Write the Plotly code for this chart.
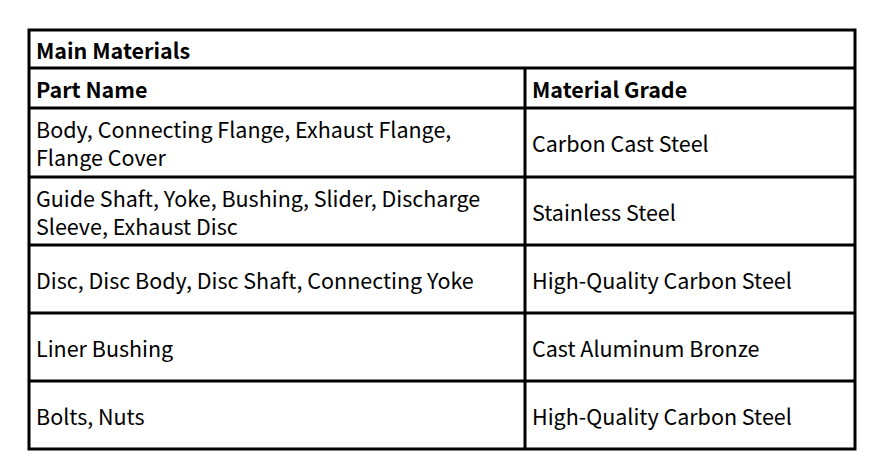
import plotly.graph_objects as go

title = "Main Materials"
headers = ["Part Name", "Material Grade"]
parts = ["Body, Connecting Flange, Exhaust Flange,<br>Flange Cover",
         "Guide Shaft, Yoke, Bushing, Slider, Discharge<br>Sleeve, Exhaust Disc",
         "Disc, Disc Body, Disc Shaft, Connecting Yoke",
         "Liner Bushing",
         "Bolts, Nuts"]
grades = ["Carbon Cast Steel", "Stainless Steel", "High-Quality Carbon Steel",
          "Cast Aluminum Bronze", "High-Quality Carbon Steel"]

# layout in pixels (page body has an 8px margin)
W, H = 884, 463
off = 8
x0, xm, x1 = 29, 525, 855
row_edges = [30, 68, 108, 177, 245, 313, 381, 449]
font = dict(family="Noto Sans CJK SC, Noto Sans, sans-serif", size=21.5, color="black")

fig = go.Figure()
shapes = []
line = dict(color="black", width=3)
shapes.append(dict(type="rect", x0=x0, x1=x1, y0=row_edges[0], y1=row_edges[-1], line=line))
for y in row_edges[1:-1]:
    shapes.append(dict(type="line", x0=x0, x1=x1, y0=y, y1=y, line=line))
shapes.append(dict(type="line", x0=xm, x1=xm, y0=row_edges[1], y1=row_edges[-1], line=line))

ann = []
def cell(x, ymid, text, bold=False):
    ann.append(dict(x=x + 5, y=ymid, text=f"<b>{text}</b>" if bold else text, showarrow=False,
                    xanchor="left", yanchor="middle", align="left", font=font, xref="x", yref="y"))

cell(x0, (row_edges[0] + row_edges[1]) / 2, title, True)
cell(x0, (row_edges[1] + row_edges[2]) / 2, headers[0], True)
cell(xm, (row_edges[1] + row_edges[2]) / 2, headers[1], True)
for i, (p, g) in enumerate(zip(parts, grades)):
    ym = (row_edges[i + 2] + row_edges[i + 3]) / 2
    cell(x0, ym, p)
    cell(xm, ym, g)

fig.update_layout(width=W, height=H, margin=dict(l=0, r=0, t=0, b=0),
                  plot_bgcolor="white", paper_bgcolor="white",
                  shapes=shapes, annotations=ann, showlegend=False,
                  xaxis=dict(range=[off, W + off], visible=False, fixedrange=True),
                  yaxis=dict(range=[H + off, off], visible=False, fixedrange=True))
fig.write_html("out.html", config={"displayModeBar": False})
